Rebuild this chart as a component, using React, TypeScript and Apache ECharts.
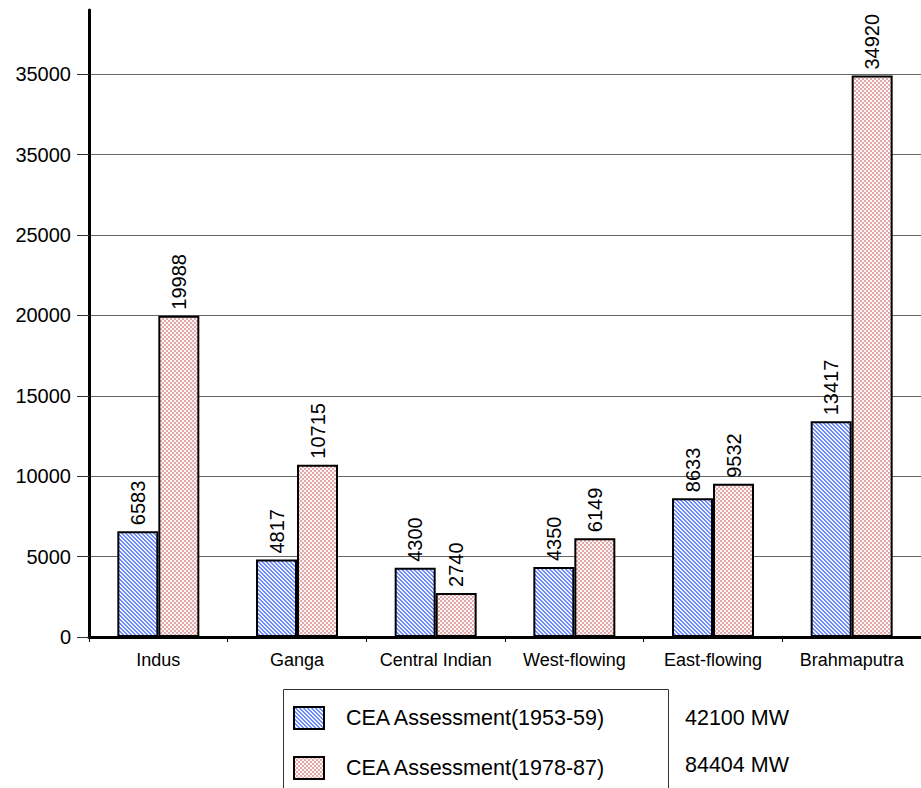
import React, { useEffect, useRef } from "react";
import * as echarts from "echarts";

// River basins and hydro-power potential (MW) from the two CEA assessments
const basins = ["Indus", "Ganga", "Central Indian", "West-flowing", "East-flowing", "Brahmaputra"];
const assessment1953 = [6583, 4817, 4300, 4350, 8633, 13417];
const assessment1978 = [19988, 10715, 2740, 6149, 9532, 34920];
const seriesNames = ["CEA Assessment(1953-59)", "CEA Assessment(1978-87)"];
const assessmentTotals = ["42100 MW", "84404 MW"];
const yTickValues = [0, 5000, 10000, 15000, 20000, 25000, 30000, 35000];
const yTickLabels = ["0", "5000", "10000", "15000", "20000", "25000", "35000", "35000"];

const FONT = "'Liberation Sans', Arial, Helvetica, sans-serif";

// Small repeating tiles used as bar fills
function makeHatch(): HTMLCanvasElement {
  const c = document.createElement("canvas");
  c.width = 4;
  c.height = 4;
  const ctx = c.getContext("2d")!;
  for (let y = 0; y < 4; y++) {
    for (let x = 0; x < 4; x++) {
      ctx.fillStyle = ((x - y + 8) % 4) < 2 ? "#6f8cff" : "#eef2ff";
      ctx.fillRect(x, y, 1, 1);
    }
  }
  return c;
}

function makeChecker(): HTMLCanvasElement {
  const c = document.createElement("canvas");
  c.width = 4;
  c.height = 4;
  const ctx = c.getContext("2d")!;
  for (let y = 0; y < 4; y++) {
    for (let x = 0; x < 4; x++) {
      const on = (x < 2) === (y < 2);
      ctx.fillStyle = on ? "#e3a9a9" : "#fdf6f6";
      ctx.fillRect(x, y, 1, 1);
    }
  }
  return c;
}

export default function App() {
  const ref = useRef<HTMLDivElement>(null);

  useEffect(() => {
    if (!ref.current) return;
    const chart = echarts.init(ref.current, null, { renderer: "svg" });

    const blueFill: any = { image: makeHatch(), repeat: "repeat", imageWidth: 4, imageHeight: 4 };
    const pinkFill: any = { image: makeChecker(), repeat: "repeat", imageWidth: 4, imageHeight: 4 };

    const barLabel = {
      show: true,
      position: "top" as const,
      rotate: 90,
      align: "left" as const,
      verticalAlign: "middle" as const,
      distance: 6,
      fontSize: 20,
      fontFamily: FONT,
      color: "#000",
    };

    chart.setOption({
      animation: false,
      backgroundColor: "#fff",
      grid: { left: 89, top: 10, right: -14, bottom: 151, containLabel: false },
      legend: {
        orient: "vertical",
        left: 293,
        top: 706,
        icon: "rect",
        itemWidth: 30,
        itemHeight: 22,
        itemGap: 26,
        padding: 0,
        selectedMode: false,
        data: seriesNames,
        textStyle: {
          fontSize: 21.5,
          fontFamily: FONT,
          color: "#000",
          lineHeight: 22,
          padding: [0, 0, 0, 17],
        },
      },
      xAxis: {
        type: "category",
        data: basins,
        boundaryGap: true,
        axisLine: { show: true, lineStyle: { color: "#000", width: 3 } },
        axisTick: { show: true, length: 5, inside: false, lineStyle: { color: "#000", width: 1 } },
        axisLabel: { interval: 0, margin: 14, fontSize: 18, fontFamily: FONT, color: "#000" },
        splitLine: { show: false },
      },
      yAxis: {
        type: "value",
        min: 0,
        max: 39000,
        interval: 5000,
        axisLine: { show: true, lineStyle: { color: "#000", width: 3 } },
        axisTick: { show: true, length: 12, customValues: yTickValues, lineStyle: { color: "#333", width: 1 } },
        axisLabel: {
          margin: 18,
          fontSize: 20,
          fontFamily: FONT,
          color: "#000",
          customValues: yTickValues,
          formatter: (v: number) => {
            const i = yTickValues.indexOf(v);
            return i >= 0 ? yTickLabels[i] : "";
          },
        },
        splitLine: { show: true, lineStyle: { color: "#666", width: 1 } },
      },
      series: [
        {
          name: seriesNames[0],
          type: "bar",
          data: assessment1953,
          barWidth: 41,
          barGap: "0%",
          itemStyle: { color: blueFill, borderColor: "#000", borderWidth: 2 },
          label: barLabel,
        },
        {
          name: seriesNames[1],
          type: "bar",
          data: assessment1978,
          barWidth: 41,
          barGap: "0%",
          itemStyle: { color: pinkFill, borderColor: "#000", borderWidth: 2 },
          label: barLabel,
        },
      ],
      graphic: [
        {
          type: "rect",
          silent: true,
          z: 0,
          shape: { x: 283.5, y: 689.5, width: 385, height: 200 },
          style: { fill: "none", stroke: "#333", lineWidth: 1 },
        },
        ...assessmentTotals.map((t, i) => ({
          type: "text",
          silent: true,
          x: 685,
          y: 718 + i * 47,
          style: {
            text: t,
            fontSize: 21.5,
            fontFamily: FONT,
            fill: "#000",
            verticalAlign: "middle",
          },
        })),
      ],
    });

    return () => chart.dispose();
  }, []);

  return (
    <div style={{ position: "fixed", left: 0, top: 0, width: 921, height: 788, overflow: "hidden", background: "#fff" }}>
      <div ref={ref} style={{ width: 921, height: 788 }} />
    </div>
  );
}
